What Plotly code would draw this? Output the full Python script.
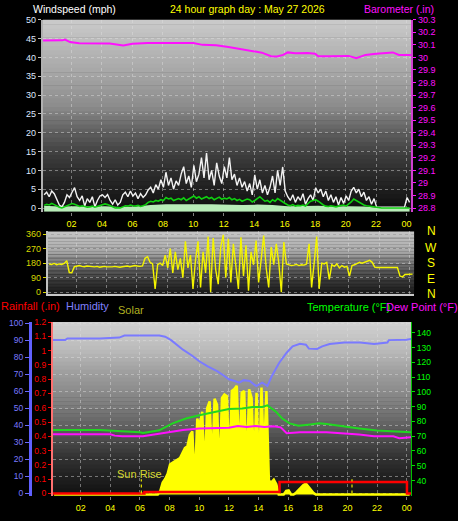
import plotly.graph_objects as go

# ---------------- data ----------------
# 10-minute samples starting at 00:12 (hours)
SAMPLE_START = 0.2
N_SAMPLES = 145
sample_hours = [round(SAMPLE_START + i / 6.0, 4) for i in range(N_SAMPLES)]

wind_gust = [
    3.5, 4.2, 3.0, 4.5, 3.8, 2.5,
    0.8, 0.3, 1.5, 3.5, 2.8, 4.2,
    5.4, 3.0, 2.0, 3.2, 0.5, 2.5,
    1.5, 3.0, 0.3, 2.0, 3.2, 3.5,
    2.8, 3.6, 2.0, 1.0, 2.2, 0.8,
    1.5, 3.5, 4.2, 3.0, 4.5, 3.2,
    4.0, 2.5, 3.8, 2.8, 3.5, 4.8,
    5.5, 4.0, 6.2, 5.0, 7.5, 5.5,
    9.5, 6.0, 8.0, 5.0, 7.2, 6.0,
    9.0, 11.0, 6.5, 8.5, 5.5, 11.3,
    7.0, 9.0, 13.4, 8.0, 14.6, 7.5,
    10.0, 6.0, 12.0, 8.5, 6.5, 11.0,
    8.0, 13.4, 7.5, 9.0, 6.0, 8.0,
    5.5, 7.0, 4.5, 6.5, 3.5, 8.8,
    5.0, 7.5, 4.0, 6.0, 3.5, 5.5,
    8.5, 4.0, 10.0, 6.0, 10.9, 4.5,
    3.0, 2.0, 3.5, 1.5, 3.0, 2.0,
    3.8, 1.0, 2.5, 3.5, 2.0, 5.4,
    4.0, 5.0, 3.0, 4.5, 2.0, 3.5,
    1.5, 3.0, 0.8, 2.8, 1.2, 3.2,
    2.0, 4.5, 5.5, 4.0, 5.0, 3.0,
    4.2, 2.0, 3.0, 1.0, 2.5, 0.3,
    0.2, 0.2, 0.2, 0.2, 0.2, 0.2,
    0.2, 0.2, 0.2, 0.2, 0.2, 2.8,
    1.5,
]

wind_avg = [
    0.7, 1.0, 0.8, 1.2, 0.9, 0.5,
    0.2, 0.0, 0.3, 0.8, 1.0, 1.2,
    1.0, 0.6, 0.4, 0.6, 0.3, 0.2,
    0.3, 0.5, 0.2, 0.4, 0.8, 1.0,
    1.1, 0.9, 0.6, 0.2, 0.0, 0.1,
    0.0, 0.3, 0.6, 0.5, 0.8, 0.6,
    0.5, 0.7, 0.4, 0.6, 0.9, 1.5,
    1.8, 1.6, 2.0, 1.8, 2.2, 2.0,
    2.8, 2.4, 2.6, 2.0, 2.3, 2.5,
    2.2, 2.7, 2.0, 2.4, 2.8, 3.2,
    2.6, 3.0, 2.4, 2.8, 3.0, 2.5,
    2.8, 2.2, 2.6, 2.9, 2.3, 2.6,
    2.4, 2.8, 2.2, 2.5, 2.0, 2.3,
    1.8, 2.0, 2.4, 2.2, 1.6, 2.0,
    2.6, 3.0, 2.4, 1.8, 2.0, 1.5,
    2.2, 1.8, 2.5, 2.0, 1.6, 1.2,
    0.8, 0.6, 0.9, 0.5, 0.7, 0.6,
    0.8, 0.5, 1.2, 1.8, 2.0, 2.2,
    1.8, 1.2, 0.8, 0.5, 0.4, 0.6,
    0.4, 0.3, 0.5, 0.6, 0.8, 0.5,
    1.0, 1.6, 2.4, 2.0, 1.5, 1.0,
    0.8, 0.6, 0.5, 0.4, 0.3, 0.1,
    0.0, 0.0, 0.0, 0.0, 0.0, 0.0,
    0.0, 0.0, 0.0, 0.0, 0.0, 0.0,
    0.0,
]

wind_dir = [
    175, 172, 178, 170, 175, 172,
    178, 195, 122, 120, 158, 160,
    165, 160, 158, 162, 160, 158,
    157, 160, 155, 158, 160, 157,
    155, 157, 160, 158, 155, 158,
    160, 162, 158, 160, 165, 162,
    160, 163, 210, 220, 185, 175,
    20, 170, 180, 165, 230, 150,
    270, 120, 250, 140, 210, 90,
    315, 150, 230, 20, 200, 315,
    30, 250, 120, 345, 0, 335,
    140, 50, 280, 355, 90, 330,
    60, 300, 160, 20, 340, 100,
    290, 10, 250, 170, 320, 60,
    200, 350, 150, 30, 280, 170,
    300, 180, 0, 310, 175, 170,
    165, 168, 172, 165, 170, 168,
    175, 300, 30, 180, 345, 20,
    180, 175, 185, 80, 170, 160,
    175, 150, 165, 155, 160, 100,
    165, 170, 180, 185, 180, 185,
    190, 197, 185, 155, 153, 153,
    153, 153, 153, 153, 153, 153,
    153, 100, 95, 110, 112, 112,
    112,
]

solar = [
    0, 0, 0, 0, 0, 0,
    0, 0, 0, 0, 0, 0,
    0, 0, 0, 0, 0, 0,
    0, 0, 0, 0, 0, 0,
    0, 0, 0, 0, 0, 0,
    0, 0, 0, 0, 0, 0,
    0, 0, 0, 0, 0, 0,
    0, 20, 69, 90, 120, 175,
    183, 195, 200, 211, 240, 269,
    280, 345, 366, 60, 440, 400,
    480, 120, 500, 540, 150, 555,
    520, 100, 560, 580, 570, 160,
    600, 611, 630, 200, 590, 600,
    120, 610, 560, 150, 590, 100,
    620, 200, 600, 80, 70, 86,
    60, 0, 0, 0, 20, 23,
    0, 0, 10, 25, 40, 55,
    63, 45, 25, 10, 0, 0,
    0, 0, 0, 0, 0, 0,
    0, 0, 0, 0, 0, 0,
    0, 0, 0, 0, 0, 0,
    0, 0, 0, 0, 0, 0,
    0, 0, 0, 0, 0, 0,
    0, 0, 0, 0, 0, 0,
    0,
]

wind_fill_hours = [0.2, 1.2, 2.2, 3.2, 4.2, 5.2, 6.2, 7.2, 8.2, 9.2, 10.2, 11.2, 12.2,
                   13.2, 14.2, 15.2, 16.2, 17.2, 18.2, 19.2, 20.2, 21.2, 22.2, 23.2, 24.2]
wind_fill = [0.6, 0.4, 0.5, 0.4, 0.5, 0.3, 0.4, 0.8, 1.0, 0.9, 1.0, 1.0, 0.9,
             0.8, 0.9, 0.8, 0.5, 0.5, 0.6, 0.4, 0.5, 0.4, 0.1, 0.1, 0.1]

baro_hours = [0.13, 1.0, 1.4, 1.57, 1.9, 2.5, 3.5, 4.5, 5.4, 6.0, 7.0, 8.0, 9.0, 10.0,
              10.6, 11.5, 12.3, 13.0, 13.6, 14.5, 15.1, 15.5, 15.9, 16.2, 16.7, 17.5,
              18.0, 18.2, 19.0, 20.2, 20.7, 21.3, 22.0, 22.5, 23.1, 23.5, 24.3]
baro = [30.134, 30.134, 30.136, 30.142, 30.122, 30.112, 30.112, 30.11, 30.096, 30.108,
        30.114, 30.115, 30.115, 30.114, 30.1, 30.096, 30.083, 30.07, 30.058, 30.038,
        30.01, 30.007, 30.02, 30.04, 30.033, 30.035, 30.03, 30.01, 30.01, 30.012,
        29.994, 30.02, 30.03, 30.035, 30.04, 30.02, 30.02]

hum_hours = [0.12, 0.95, 1.1, 3.3, 4.6, 4.95, 7.3, 7.7, 8.1, 8.9, 9.5, 10.0, 10.6, 11.2,
             11.6, 12.0, 12.4, 12.7, 13.0, 13.4, 13.85, 14.25, 14.6, 14.9, 15.4, 15.9,
             16.3, 16.8, 17.2, 17.4, 17.95, 18.3, 18.8, 19.8, 20.85, 21.8, 22.7, 22.8,
             24.0, 24.3]
humidity = [90.0, 90.0, 91.0, 91.0, 91.5, 92.7, 92.7, 92.0, 90.0, 84.4, 81.0, 77.6, 74.5,
            71.8, 69.5, 67.0, 66.0, 65.0, 66.5, 66.0, 63.0, 65.0, 63.0, 69.0, 76.7, 82.6,
            86.3, 87.8, 87.3, 85.0, 84.8, 86.3, 87.7, 88.6, 88.6, 87.7, 88.6, 90.0, 90.2,
            90.7]

temp_hours = [0.12, 3.3, 6.0, 6.2, 6.6, 7.3, 8.2, 9.1, 10.0, 10.9, 12.0, 12.9, 13.6, 14.25,
              14.6, 15.2, 15.6, 16.1, 16.7, 17.5, 18.1, 18.6, 19.8, 20.8, 22.0, 23.1, 24.3]
temperature = [74.2, 74.2, 72.7, 72.2, 72.8, 74.0, 78.7, 82.0, 84.2, 86.0, 88.5, 88.7, 89.8,
               89.8, 90.9, 86.4, 82.0, 78.7, 77.1, 78.0, 78.7, 78.2, 76.4, 75.3, 73.8, 73.1,
               72.7]

dew_hours = [0.12, 4.0, 4.3, 4.8, 6.2, 6.9, 7.8, 8.9, 10.0, 12.0, 12.6, 13.2, 13.8, 14.4,
             15.0, 15.5, 15.9, 16.8, 18.6, 19.8, 20.8, 21.8, 23.1, 23.5, 24.3]
dew_point = [71.3, 71.3, 70.4, 70.0, 70.0, 71.0, 72.7, 74.2, 75.3, 75.8, 76.9, 76.2, 76.9,
             76.3, 76.8, 76.0, 72.0, 72.7, 72.7, 72.0, 71.1, 70.0, 70.0, 68.7, 69.3]

rain_hours = [0.12, 6.3, 15.42, 24.02, 24.3]
rainfall = [0.0, 0.01, 0.08, 0.0, 0.0]

sun_events = [6.09, 20.31]
sun_labels = ["Sun Rise", ""]

hour_ticks = [2, 4, 6, 8, 10, 12, 14, 16, 18, 20, 22, 24]
hour_labels = ["02", "04", "06", "08", "10", "12", "14", "16", "18", "20", "22", "00"]
wind_ticks = [0, 5, 10, 15, 20, 25, 30, 35, 40, 45, 50]
baro_ticks = [28.8, 28.9, 29.0, 29.1, 29.2, 29.3, 29.4, 29.5, 29.6, 29.7, 29.8, 29.9, 30.0,
              30.1, 30.2, 30.3]
baro_labels = ["28.8", "28.9", "29", "29.1", "29.2", "29.3", "29.4", "29.5", "29.6", "29.7",
               "29.8", "29.9", "30", "30.1", "30.2", "30.3"]
dir_ticks = [0, 90, 180, 270, 360]
compass_labels = ["N", "W", "S", "E", "N"]
hum_ticks = [0, 10, 20, 30, 40, 50, 60, 70, 80, 90, 100]
rain_ticks = [0, 0.1, 0.2, 0.3, 0.4, 0.5, 0.6, 0.7, 0.8, 0.9, 1.0, 1.1, 1.2]
rain_labels = ["0", "0.1", "0.2", "0.3", "0.4", "0.5", "0.6", "0.7", "0.8", "0.9", "1",
               "1.1", "1.2"]
temp_ticks = [40, 50, 60, 70, 80, 90, 100, 110, 120, 130, 140]

TITLE = "24 hour graph day : May 27 2026"

# ---------------- layout helpers ----------------
W, H = 458, 521
FONT = "Liberation Sans, Arial, sans-serif"


def px(x):
    return x / W


def py(y):
    return 1 - y / H


X_RANGE = [0.12, 24.3]
WIND_RANGE = [-1.0, 50]
BARO_RANGE = [28.77, 30.3]
DIR_RANGE = [-14, 376]
HUM_RANGE = [-1.7, 100.6]
RAIN_RANGE = [-0.02, 1.2]
TEMP_RANGE = [29.3, 147.3]
SOLAR_RANGE = [-11, 1000]

fig = go.Figure()

# panel 1 : wind + barometer
fig.add_trace(go.Scatter(x=wind_fill_hours, y=[WIND_RANGE[0]] * len(wind_fill_hours),
                         mode="lines", line=dict(width=0), xaxis="x", yaxis="y",
                         hoverinfo="skip"))
fig.add_trace(go.Scatter(x=wind_fill_hours, y=wind_fill, mode="lines", fill="tonexty",
                         fillcolor="#b8ecb8", line=dict(width=0, color="#b8ecb8"),
                         xaxis="x", yaxis="y"))
fig.add_trace(go.Scatter(x=sample_hours, y=wind_gust, mode="lines",
                         line=dict(color="#f2f2f2", width=1.4), xaxis="x", yaxis="y"))
fig.add_trace(go.Scatter(x=sample_hours, y=wind_avg, mode="lines",
                         line=dict(color="#10d010", width=1.6), xaxis="x", yaxis="y"))
fig.add_trace(go.Scatter(x=baro_hours, y=baro, mode="lines",
                         line=dict(color="#ff10ff", width=2), xaxis="x", yaxis="y2"))

# panel 2 : wind direction
fig.add_trace(go.Scatter(x=sample_hours, y=wind_dir, mode="lines",
                         line=dict(color="#f4f400", width=1.4), xaxis="x2", yaxis="y3"))

# panel 3 : solar (bottom), humidity, temperature, dew point, rain
fig.add_trace(go.Scatter(x=sample_hours, y=solar, mode="lines", fill="tozeroy",
                         fillcolor="#ffff00", line=dict(color="#ffff00", width=2.5),
                         xaxis="x3", yaxis="y4"))
fig.add_trace(go.Scatter(x=hum_hours, y=humidity, mode="lines",
                         line=dict(color="#7a7aff", width=2), xaxis="x3", yaxis="y5"))
fig.add_trace(go.Scatter(x=temp_hours, y=temperature, mode="lines",
                         line=dict(color="#20d820", width=2), xaxis="x3", yaxis="y7"))
fig.add_trace(go.Scatter(x=dew_hours, y=dew_point, mode="lines",
                         line=dict(color="#ff10ff", width=2), xaxis="x3", yaxis="y7"))
fig.add_trace(go.Scatter(x=rain_hours, y=rainfall, mode="lines", line_shape="hv",
                         line=dict(color="#ff0000", width=2.5), xaxis="x3", yaxis="y6"))
for t in sun_events:
    fig.add_trace(go.Scatter(x=[t, t], y=[0, 0.1], mode="lines",
                             line=dict(color="#e8e800", width=1.2, dash="dot"),
                             xaxis="x3", yaxis="y6"))

# ---------------- background gradients ----------------
def interp(stops, f):
    for (f0, g0), (f1, g1) in zip(stops[:-1], stops[1:]):
        if f0 <= f <= f1:
            return g0 + (g1 - g0) * (f - f0) / (f1 - f0)
    return stops[-1][1]


def gradient(xref, yref, stops, n=44):
    out = []
    for k in range(n):
        f0, f1 = k / n, (k + 1) / n
        g = int(round(interp(stops, (f0 + f1) / 2)))
        out.append(dict(type="rect", xref=xref + " domain", yref=yref + " domain",
                        x0=0, x1=1, y0=max(0, 1 - f1 - 0.003), y1=1 - f0,
                        fillcolor=f"rgb({g},{g},{g})", line_width=0, layer="below"))
    return out


shapes = []
shapes += gradient("x", "y", [(0, 202), (0.25, 170), (0.45, 140), (0.575, 98), (0.7, 62),
                              (0.825, 40), (0.95, 20), (1.0, 12)])
shapes += gradient("x2", "y3", [(0, 196), (0.25, 176), (0.36, 160), (0.52, 112),
                                (0.67, 80), (0.83, 48), (0.94, 32), (1.0, 28)])
shapes += gradient("x3", "y4", [(0, 210), (0.16, 186), (0.27, 162), (0.47, 126),
                                (0.55, 108), (0.67, 76), (0.78, 50), (0.89, 32), (1.0, 16)])

# ---------------- annotations ----------------
ann = []


def text(s, x, y, color, size=11, xanchor="left"):
    ann.append(dict(text=s, x=px(x), y=py(y), xref="paper", yref="paper",
                    xanchor=xanchor, yanchor="middle", showarrow=False, borderpad=0,
                    font=dict(family=FONT, size=size, color=color)))


text("Windspeed (mph)", 32, 4.5, "#ffffff", size=10.5)
text(TITLE, 248, 4.5, "#ffff00", size=10.5, xanchor="center")
text("Barometer (.in)", 364, 4.5, "#ff10ff", size=10.5)
text("Rainfall (.in)", 0, 306, "#ff0000")
text("Humidity", 65, 306, "#8080ff")
text("Solar", 117, 310, "#b0b020")
text("Temperature (°F)", 307, 307, "#00ff00")
text("Dew Point (°F)", 386, 307, "#ff10ff")
for lab, yy in zip(compass_labels, [230, 246.5, 262.5, 278.5, 293]):
    text(lab, 432, yy, "#ffff00", size=12, xanchor="center")
for t, lab in zip(sun_events, sun_labels):
    if lab:
        ann.append(dict(text=lab, x=t - 0.1, y=0.135, xref="x3", yref="y6",
                        xanchor="center", yanchor="middle", showarrow=False,
                        font=dict(family=FONT, size=11, color="#d8d830")))

grid = dict(showgrid=True, gridcolor="rgba(225,225,225,0.45)", griddash="dot", gridwidth=1)

fig.update_layout(
    width=W, height=H, autosize=False,
    margin=dict(l=0, r=0, t=0, b=0, pad=0),
    paper_bgcolor="#000000", plot_bgcolor="#000000",
    showlegend=False, hovermode=False,
    shapes=shapes, annotations=ann,
    xaxis=dict(domain=[px(43), px(412)], range=X_RANGE, anchor="y",
               tickmode="array", tickvals=hour_ticks, ticktext=hour_labels,
               tickfont=dict(family=FONT, size=9, color="#ffff00"),
               ticks="outside", ticklen=3, tickcolor="#808080",
               zeroline=False, showline=False, **grid),
    yaxis=dict(domain=[py(210), py(15)], range=WIND_RANGE, anchor="x",
               tickmode="array", tickvals=wind_ticks,
               tickfont=dict(family=FONT, size=9, color="#dfe8ff"),
               ticks="outside", ticklen=3, tickcolor="#c0c0c0",
               showline=True, linecolor="#b0b0b0", linewidth=2,
               zeroline=False, **grid),
    yaxis2=dict(overlaying="y", side="right", anchor="x", range=BARO_RANGE,
                tickmode="array", tickvals=baro_ticks, ticktext=baro_labels,
                tickfont=dict(family=FONT, size=9, color="#ff10ff"),
                ticks="outside", ticklen=3, tickcolor="#ff10ff",
                showline=True, linecolor="#d040d0", linewidth=2,
                showgrid=False, zeroline=False),
    xaxis2=dict(domain=[px(48), px(415)], range=X_RANGE, anchor="y3",
                showticklabels=False, ticks="", zeroline=False,
                showline=True, linecolor="#c8c8c8", linewidth=2,
                tickmode="array", tickvals=hour_ticks, **grid),
    yaxis3=dict(domain=[py(294), py(230)], range=DIR_RANGE, anchor="x2",
                tickmode="array", tickvals=dir_ticks,
                tickfont=dict(family=FONT, size=9, color="#d8d800"),
                ticks="outside", ticklen=3, tickcolor="#d8d800",
                showline=True, linecolor="#c0c0c0", linewidth=2,
                zeroline=False, **grid),
    xaxis3=dict(domain=[px(53), px(412)], range=X_RANGE, anchor="y4",
                tickmode="array", tickvals=hour_ticks, ticktext=hour_labels,
                tickfont=dict(family=FONT, size=9, color="#ffff00"),
                ticks="outside", ticklen=3, tickcolor="#808080",
                zeroline=False, showline=False, **grid),
    yaxis4=dict(domain=[py(499), py(322)], range=SOLAR_RANGE, anchor="x3",
                showticklabels=False, ticks="", showgrid=False, zeroline=False,
                showline=False),
    yaxis5=dict(overlaying="y4", anchor="free", position=px(30), side="left",
                range=HUM_RANGE, tickmode="array", tickvals=hum_ticks,
                tickfont=dict(family=FONT, size=8.5, color="#7a7aff"),
                ticks="outside", ticklen=4, tickcolor="#6a6aff",
                showline=True, linecolor="#6060ff", linewidth=3,
                zeroline=False, **grid),
    yaxis6=dict(overlaying="y4", anchor="free", position=px(52), side="left",
                range=RAIN_RANGE, tickmode="array", tickvals=rain_ticks,
                ticktext=rain_labels,
                tickfont=dict(family=FONT, size=8.5, color="#ff0000"),
                ticks="outside", ticklen=3, tickcolor="#ff0000",
                showline=True, linecolor="#ff7070", linewidth=2,
                showgrid=False, zeroline=False),
    yaxis7=dict(overlaying="y4", anchor="x3", side="right", range=TEMP_RANGE,
                tickmode="array", tickvals=temp_ticks,
                tickfont=dict(family=FONT, size=8.5, color="#00ff00"),
                ticks="outside", ticklen=3, tickcolor="#00e000",
                showline=True, linecolor="#00c000", linewidth=1,
                showgrid=False, zeroline=False),
)

fig.write_html("out.html", config={"displayModeBar": False},
               post_script="document.body.style.margin='0px';")
